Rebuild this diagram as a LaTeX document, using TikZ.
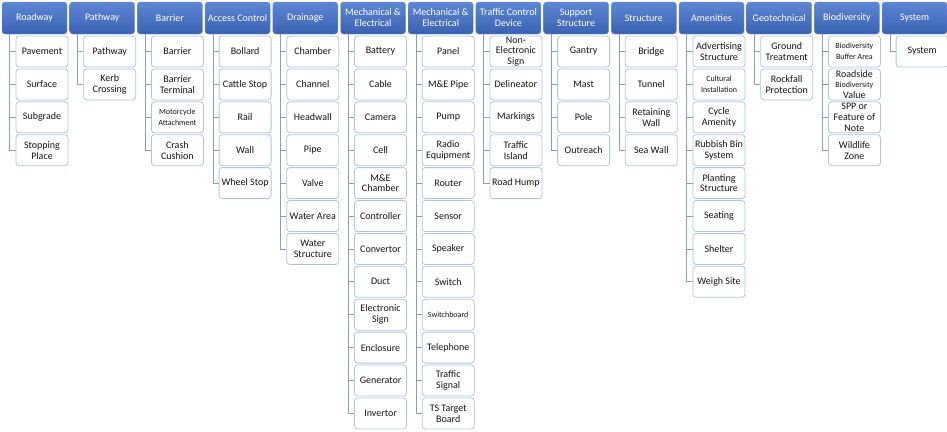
\documentclass[tikz,border=0pt]{standalone}
\usepackage{fontspec}
\setmainfont{Carlito}
\definecolor{headtop}{RGB}{92,134,212}
\definecolor{headbot}{RGB}{58,98,178}
\definecolor{headline}{RGB}{110,146,210}
\definecolor{itemline}{RGB}{178,196,222}
\definecolor{connline}{RGB}{140,158,188}
\definecolor{itemtext}{RGB}{20,20,20}
\newcommand\smf{\fontsize{8}{9.5}\selectfont}

\begin{document}
\begin{tikzpicture}[x=1pt,y=1pt,
  head/.style={rectangle,rounded corners=3pt,draw=headline,top color=headtop,bottom color=headbot,
    minimum width=65pt,minimum height=32pt,inner sep=0.5pt,align=center,text=white,
    font=\fontsize{10}{11}\selectfont},
  item/.style={rectangle,rounded corners=3pt,draw=itemline,fill=white,line width=0.8pt,
    minimum width=52pt,minimum height=31pt,inner sep=0pt,align=center,text=itemtext,
    font=\fontsize{10}{10.8}\selectfont},
  conn/.style={draw=connline,line width=0.8pt}]
\useasboundingbox (0,0) rectangle (947,-431);

\foreach \c/\h/\items in {
  0/Roadway/{Pavement,Surface,Subgrade,Stopping\\Place},
  1/Pathway/{Pathway,Kerb\\Crossing},
  2/Barrier/{Barrier,Barrier\\Terminal,\smf Motorcycle\\\smf Attachment,Crash\\Cushion},
  3/Access Control/{Bollard,Cattle Stop,Rail,Wall,Wheel Stop},
  4/Drainage/{Chamber,Channel,Headwall,Pipe,Valve,Water Area,Water\\Structure},
  5/Mechanical \&\\Electrical/{Battery,Cable,Camera,Cell,M\&E\\Chamber,Controller,Convertor,Duct,Electronic\\Sign,Enclosure,Generator,Invertor},
  6/Mechanical \&\\Electrical/{Panel,M\&E Pipe,Pump,Radio\\Equipment,Router,Sensor,Speaker,Switch,\smf Switchboard,Telephone,Traffic\\Signal,TS Target\\Board},
  7/Traffic Control\\Device/{Non-\\Electronic\\Sign,Delineator,Markings,Traffic\\Island,Road Hump},
  8/Support\\Structure/{Gantry,Mast,Pole,Outreach},
  9/Structure/{Bridge,Tunnel,Retaining\\Wall,Sea Wall},
  10/Amenities/{Advertising\\Structure,\smf Cultural\\\smf Installation,Cycle\\Amenity,Rubbish Bin\\System,Planting\\Structure,Seating,Shelter,Weigh Site},
  11/Geotechnical/{Ground\\Treatment,Rockfall\\Protection},
  12/Biodiversity/{\smf Biodiversity\\\smf Buffer Area,Roadside\\\smf Biodiversity\\Value,SPP or\\Feature of\\Note,Wildlife\\Zone},
  13/System/{System}}{
  \node[head] (h\c) at ({34.5+67.7*\c},-18) {\h};
  \foreach \t [count=\j] in \items {
    \node[item] (c\c-\j) at ({42+67.7*\c},{-51.5-32.9*(\j-1)}) {\t};
    \draw[conn] (h\c.south west) ++(8,0) |- (c\c-\j.west);
  }
}
\end{tikzpicture}
\end{document}
